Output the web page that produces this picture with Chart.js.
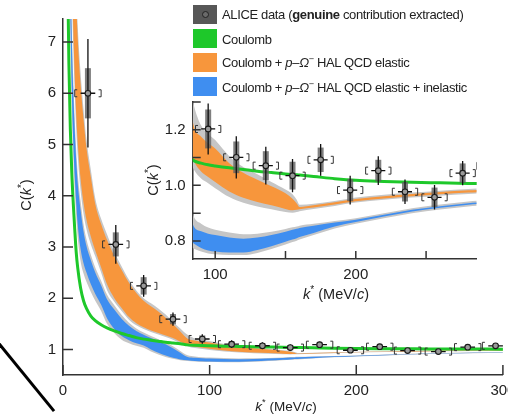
<!DOCTYPE html>
<html>
<head>
<meta charset="utf-8">
<script src="https://cdn.jsdelivr.net/npm/chart.js@4.4.1/dist/chart.umd.min.js"></script>
<style>
  body { margin: 0; background: #fff; }
  #wrap { position: relative; width: 508px; height: 414px; overflow: hidden;
          font-family: 'Liberation Sans', Arial, sans-serif; color: #222; }
  #mainBox  { position: absolute; left: 0; top: 0; width: 508px; height: 414px; }
  #insetBox { position: absolute; left: 145px; top: 96px; width: 345px; height: 190px; }
  .ttl { position: absolute; white-space: nowrap; transform: translate(-50%, -50%); }
  .ttl.rot { transform: translate(-50%, -50%) rotate(-90deg); }
  .ttl sup { font-size: 70%; }
  .leg-sw { position: absolute; left: 193px; width: 24px; height: 19px; }
  .leg-tx { position: absolute; left: 222px; font-size: 13px; letter-spacing: -0.35px; white-space: nowrap; transform: translateY(-50%); }
  .leg-tx sup { font-size: 70%; }
  .dot { position: absolute; left: 8.5px; top: 6px; width: 5px; height: 5px; border: 1px solid #222;
         border-radius: 50%; background: #6a6a6a; }
  #slash { position: absolute; left: -6px; top: 336px; width: 95px; height: 3px; background: #000;
           transform-origin: 0 50%; transform: rotate(50.8deg); }
</style>
</head>
<body>
<div id="wrap">
  <div id="mainBox"><canvas id="chartMain"></canvas></div>
  <div id="insetBox"><canvas id="chartInset"></canvas></div>

  <!-- axis titles -->
  <div class="ttl rot" style="left:25px; top:195px; font-size:14.5px;">C(<i>k</i><sup>*</sup>)</div>
  <div class="ttl" style="left:286px; top:405px; font-size:13.5px;"><i>k</i><sup>*</sup> (MeV/<i>c</i>)</div>
  <div class="ttl rot" style="left:152px; top:180px; font-size:14.5px;">C(<i>k</i><sup>*</sup>)</div>
  <div class="ttl" style="left:336px; top:293px; font-size:14.5px;"><i>k</i><sup>*</sup> (MeV/<i>c</i>)</div>

  <!-- legend -->
  <div class="leg-sw" style="top:5px; background:#575757;"><span class="dot"></span></div>
  <div class="leg-tx" style="top:14px;">ALICE data (<b>genuine</b> contribution extracted)</div>
  <div class="leg-sw" style="top:29px; background:#1ec82a;"></div>
  <div class="leg-tx" style="top:39px;">Coulomb</div>
  <div class="leg-sw" style="top:53px; background:#f7963c;"></div>
  <div class="leg-tx" style="top:62px;">Coulomb + <i>p</i>–<i>Ω</i><sup>−</sup> HAL QCD elastic</div>
  <div class="leg-sw" style="top:77px; background:#3f8ef0;"></div>
  <div class="leg-tx" style="top:87px;">Coulomb + <i>p</i>–<i>Ω</i><sup>−</sup> HAL QCD elastic + inelastic</div>

  <div id="slash"></div>
</div>

<script>
// =========================================
// p–Omega correlation function, main + inset
// values
// =========================================

// ---- model curves: k* grid (MeV/c) ----
const K = [3, 4, 5, 6, 7, 8, 9, 10, 12, 14, 16, 19, 22, 26, 30, 35, 40, 45, 50, 55, 60, 65, 70, 75, 80,
           85, 90, 95, 100, 110, 120, 130, 140, 150, 155, 158, 160, 170, 185, 200, 220, 240, 260, 280, 300];

const COULOMB = [8.8, 6.6, 5.3, 4.45, 3.85, 3.35, 2.9, 2.6, 2.2, 1.95, 1.8, 1.65, 1.56, 1.48, 1.42, 1.36, 1.31, 1.27, 1.23,
                 1.2, 1.18, 1.16, 1.14, 1.125, 1.11, 1.088, 1.08, 1.074, 1.07, 1.063, 1.057, 1.051, 1.046, 1.041, 1.039, 1.038, 1.037,
                 1.032, 1.024, 1.018, 1.014, 1.011, 1.009, 1.007, 1.005];

// elastic: grey outer band and orange inner band
const EL_OUT_LO = [16, 12, 9.6, 8.0, 6.9, 6.0, 5.3, 4.8, 4.1, 3.65, 3.35, 3.05, 2.82, 2.5, 2.16, 1.93, 1.75, 1.58, 1.47,
                   1.4, 1.34, 1.29, 1.24, 1.19, 1.12, 1.055, 1.025, 1.008, 0.99, 0.958, 0.937, 0.924, 0.914, 0.904, 0.901, 0.904, 0.907,
                   0.915, 0.926, 0.938, 0.948, 0.956, 0.963, 0.969, 0.974];
const EL_LO     = [16.8, 12.6, 10.1, 8.4, 7.25, 6.31, 5.58, 5.06, 4.33, 3.86, 3.53, 3.2, 2.93, 2.6, 2.27, 2.0, 1.81, 1.63, 1.51,
                   1.43, 1.37, 1.32, 1.27, 1.22, 1.15, 1.085, 1.05, 1.03, 1.012, 0.978, 0.955, 0.94, 0.928, 0.915, 0.91, 0.912, 0.914,
                   0.92, 0.931, 0.943, 0.953, 0.961, 0.968, 0.974, 0.979];
const EL_HI     = [23.2, 17.4, 14.0, 11.6, 10.05, 8.79, 7.82, 7.1, 6.17, 5.5, 4.93, 4.36, 3.84, 3.45, 3.14, 2.82, 2.55, 2.3, 2.1,
                   1.95, 1.84, 1.74, 1.62, 1.49, 1.35, 1.21, 1.175, 1.152, 1.133, 1.08, 1.045, 1.02, 0.997, 0.972, 0.952, 0.935, 0.922,
                   0.928, 0.939, 0.951, 0.961, 0.969, 0.976, 0.982, 0.987];
const EL_OUT_HI = [24, 18, 14.5, 12, 10.4, 9.1, 8.1, 7.35, 6.4, 5.7, 5.1, 4.5, 3.95, 3.55, 3.25, 2.9, 2.62, 2.36, 2.15,
                   2.0, 1.9, 1.8, 1.68, 1.54, 1.41, 1.285, 1.215, 1.185, 1.163, 1.105, 1.066, 1.04, 1.012, 0.985, 0.968, 0.948, 0.93,
                   0.934, 0.944, 0.956, 0.966, 0.974, 0.981, 0.987, 0.992];

// elastic + inelastic: grey outer band and blue inner band
const IN_OUT_LO = [12, 9.0, 7.2, 5.7, 4.75, 4.1, 3.6, 3.2, 2.72, 2.48, 2.32, 2.12, 1.95, 1.75, 1.5, 1.32, 1.19, 1.12, 1.07,
                   1.03, 0.96, 0.9, 0.85, 0.815, 0.79, 0.772, 0.762, 0.755, 0.752, 0.749, 0.749, 0.757, 0.771, 0.787, 0.796, 0.801, 0.805,
                   0.821, 0.845, 0.862, 0.882, 0.9, 0.913, 0.924, 0.932];
const IN_LO     = [12.54, 9.4, 7.52, 6.03, 5.06, 4.38, 3.86, 3.45, 2.96, 2.68, 2.5, 2.27, 2.08, 1.87, 1.61, 1.4, 1.26, 1.18, 1.12,
                   1.075, 1.0, 0.935, 0.88, 0.835, 0.805, 0.79, 0.775, 0.766, 0.762, 0.758, 0.758, 0.767, 0.781, 0.797, 0.805, 0.81, 0.814,
                   0.829, 0.852, 0.868, 0.888, 0.906, 0.919, 0.93, 0.938];
const IN_HI     = [14.3, 10.7, 8.56, 7.1, 6.07, 5.29, 4.7, 4.26, 3.72, 3.3, 3.02, 2.74, 2.5, 2.25, 1.98, 1.78, 1.6, 1.46, 1.36,
                   1.285, 1.22, 1.16, 1.1, 1.02, 0.935, 0.85, 0.835, 0.826, 0.821, 0.812, 0.808, 0.812, 0.821, 0.833, 0.84, 0.844, 0.847,
                   0.855, 0.866, 0.876, 0.894, 0.912, 0.925, 0.936, 0.944];
const IN_OUT_HI = [14.7, 11, 8.8, 7.35, 6.3, 5.5, 4.9, 4.45, 3.9, 3.45, 3.15, 2.85, 2.6, 2.34, 2.07, 1.86, 1.67, 1.52, 1.41,
                   1.33, 1.26, 1.2, 1.14, 1.06, 0.97, 0.885, 0.862, 0.848, 0.84, 0.83, 0.824, 0.826, 0.833, 0.843, 0.849, 0.852, 0.855,
                   0.862, 0.872, 0.882, 0.9, 0.918, 0.931, 0.942, 0.95];

// ---- ALICE data points ----
const K_DATA   = [17, 36, 55, 75, 95, 115, 136, 155, 175, 196, 216, 235, 256, 276, 295];
const C_DATA   = [6.0, 3.05, 2.24, 1.59, 1.203, 1.101, 1.071, 1.035, 1.092, 0.983, 1.053, 0.977, 0.957, 1.044, 1.07];
const STAT_ERR = [1.06, 0.38, 0.21, 0.13, 0.092, 0.076, 0.068, 0.06, 0.057, 0.052, 0.052, 0.044, 0.044, 0.044, 0.045];
const SYS_ERR  = [0.49, 0.235, 0.17, 0.1, 0.07, 0.057, 0.052, 0.05, 0.044, 0.04, 0.039, 0.035, 0.035, 0.035, 0.035];
const X_BAR     = 5;   // half width of horizontal bar (MeV/c)
const X_BRACKET = 9;   // position of [ ] brackets (MeV/c)

// ---- ticks ----
const MAIN_X_TICKS  = [0, 100, 200, 300];
const MAIN_Y_TICKS  = [1, 2, 3, 4, 5, 6, 7];
const INSET_X_TICKS = [100, 150, 200, 250];
const INSET_Y_TICKS = [0.8, 0.9, 1.0, 1.1, 1.2, 1.3];
const INSET_X_LABELS = [100, 200];
const INSET_Y_LABELS = [0.8, 1.0, 1.2];

// ---- colours ----
const GREEN  = '#1ec82a';
const ORANGE = '#f7963c';
const BLUE   = '#3f8ef0';
const GREY   = '#c6c6c6';
const FONT   = "'Liberation Sans', Arial, sans-serif";

Chart.defaults.font.family = FONT;
Chart.defaults.color = '#222';

function pts(ys) {
  return K.map(function (k, i) { return { x: k, y: ys[i] }; });
}

function edge(ys, order, fillColor) {
  return {
    data: pts(ys),
    order: order,
    borderWidth: 0,
    borderColor: 'rgba(0,0,0,0)',
    pointRadius: 0,
    cubicInterpolationMode: 'monotone',
    fill: fillColor ? '-1' : false,
    backgroundColor: fillColor || 'rgba(0,0,0,0)'
  };
}

function buildDatasets(greenWidth) {
  return [
    edge(IN_OUT_LO, 6), edge(IN_OUT_HI, 6, GREY),
    edge(IN_LO, 5),     edge(IN_HI, 5, BLUE),
    edge(EL_OUT_LO, 4), edge(EL_OUT_HI, 4, GREY),
    edge(EL_LO, 3),     edge(EL_HI, 3, ORANGE),
    {
      data: pts(COULOMB), order: 2, borderColor: GREEN, borderWidth: greenWidth,
      pointRadius: 0, cubicInterpolationMode: 'monotone', fill: false
    },
    {
      label: 'ALICE',
      data: K_DATA.map(function (k, i) { return { x: k, y: C_DATA[i] }; }),
      order: 1, showLine: false, pointRadius: 2.8,
      pointBackgroundColor: '#9a9a9a', pointBorderColor: '#1a1a1a', pointBorderWidth: 1.1
    }
  ];
}

// ---- error bars, grey systematic boxes and [ ] brackets ----
const errorBars = {
  id: 'errorBars',
  beforeDatasetDraw: function (chart, args) {
    if (chart.data.datasets[args.index].label !== 'ALICE') return;
    const ctx = chart.ctx, a = chart.chartArea;
    const x = chart.scales.x, y = chart.scales.y;
    ctx.save();
    ctx.beginPath(); ctx.rect(a.left, a.top, a.right - a.left, a.bottom - a.top); ctx.clip();
    K_DATA.forEach(function (k, i) {
      const px = x.getPixelForValue(k);
      const py = y.getPixelForValue(C_DATA[i]);
      const sTop = y.getPixelForValue(C_DATA[i] + SYS_ERR[i]);
      const sBot = y.getPixelForValue(C_DATA[i] - SYS_ERR[i]);
      ctx.fillStyle = 'rgba(95,95,95,0.8)';
      ctx.fillRect(px - 3, sTop, 6, sBot - sTop);

      ctx.strokeStyle = '#111';
      ctx.lineWidth = 1.3;
      ctx.beginPath();
      ctx.moveTo(px, y.getPixelForValue(C_DATA[i] + STAT_ERR[i]));
      ctx.lineTo(px, y.getPixelForValue(C_DATA[i] - STAT_ERR[i]));
      ctx.moveTo(x.getPixelForValue(k - X_BAR), py);
      ctx.lineTo(x.getPixelForValue(k + X_BAR), py);
      ctx.stroke();

      ctx.strokeStyle = '#333';
      ctx.lineWidth = 1;
      [-1, 1].forEach(function (s) {
        const bx = x.getPixelForValue(k + s * X_BRACKET);
        ctx.beginPath();
        ctx.moveTo(bx - s * 2.5, py - 3.5);
        ctx.lineTo(bx, py - 3.5);
        ctx.lineTo(bx, py + 3.5);
        ctx.lineTo(bx - s * 2.5, py + 3.5);
        ctx.stroke();
      });
    });
    ctx.restore();
  }
};

// ---- tick marks pointing into the plot ----
const inwardTicks = {
  id: 'inwardTicks',
  afterDatasetsDraw: function (chart, args, opts) {
    const ctx = chart.ctx, x = chart.scales.x, y = chart.scales.y;
    ctx.save();
    ctx.strokeStyle = '#333';
    ctx.lineWidth = 1.5;
    ctx.beginPath();
    x.ticks.forEach(function (t) {
      const px = x.getPixelForValue(t.value);
      ctx.moveTo(px, x.top); ctx.lineTo(px, x.top - opts.len);
    });
    y.ticks.forEach(function (t) {
      const py = y.getPixelForValue(t.value);
      ctx.moveTo(y.right, py); ctx.lineTo(y.right + opts.len, py);
    });
    ctx.stroke();
    ctx.restore();
  }
};

function axis(min, max, tickList, labelFn, fontSize, fitFn) {
  return {
    type: 'linear', min: min, max: max,
    grid: { display: false, drawTicks: false },
    border: { display: true, color: '#333', width: 1.5 },
    afterBuildTicks: function (s) { s.ticks = tickList.map(function (v) { return { value: v }; }); },
    ticks: { font: { size: fontSize }, padding: 7, maxRotation: 0, autoSkip: false, callback: labelFn },
    afterFit: fitFn
  };
}

// ---- main chart ----
new Chart(document.getElementById('chartMain'), {
  type: 'line',
  data: { datasets: buildDatasets(3) },
  options: {
    responsive: true,
    maintainAspectRatio: false,
    animation: false,
    layout: { padding: { top: 19, right: 1, left: 0, bottom: 0 } },
    plugins: { legend: { display: false }, tooltip: { enabled: false }, inwardTicks: { len: 10 } },
    scales: {
      x: axis(0, 300, MAIN_X_TICKS, function (v) { return String(v); }, 15,
        function (s) { s.height = 39; s.paddingLeft = 0; s.paddingRight = 0; }),
      y: axis(0.5, 7.45, MAIN_Y_TICKS, function (v) { return String(v); }, 15,
        function (s) { s.width = 63; s.paddingTop = 0; s.paddingBottom = 0; })
    }
  },
  plugins: [errorBars, inwardTicks]
});

// ---- inset chart ----
new Chart(document.getElementById('chartInset'), {
  type: 'line',
  data: { datasets: buildDatasets(3) },
  options: {
    responsive: true,
    maintainAspectRatio: false,
    animation: false,
    layout: { padding: { top: 6, right: 13.3, left: 0, bottom: 0 } },
    plugins: { legend: { display: false }, tooltip: { enabled: false }, inwardTicks: { len: 8 } },
    scales: {
      x: axis(84, 286, INSET_X_TICKS,
        function (v) { return INSET_X_LABELS.indexOf(v) >= 0 ? String(v) : ''; }, 15,
        function (s) { s.height = 27; s.paddingLeft = 0; s.paddingRight = 0; }),
      y: axis(0.735, 1.30, INSET_Y_TICKS,
        function (v) { return INSET_Y_LABELS.some(function (l) { return Math.abs(l - v) < 1e-6; }) ? v.toFixed(1) : ''; }, 15,
        function (s) { s.width = 47.7; s.paddingTop = 0; s.paddingBottom = 0; })
    }
  },
  plugins: [errorBars, inwardTicks]
});
</script>
</body>
</html>
